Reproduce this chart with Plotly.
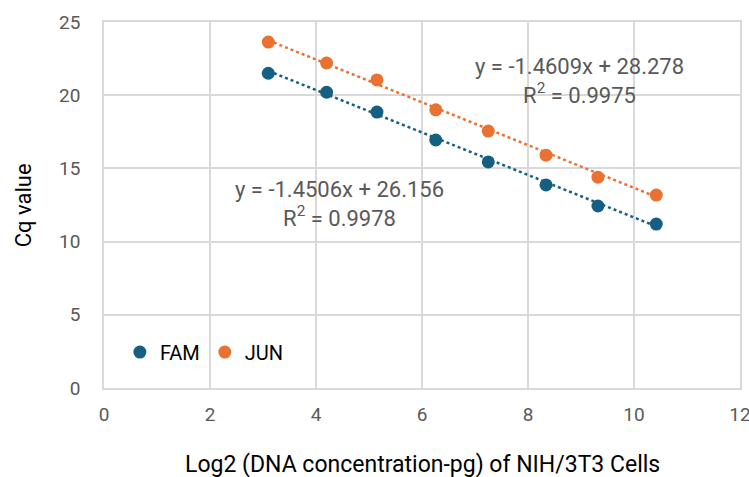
import plotly.graph_objects as go

x_vals = [3.1, 4.2, 5.15, 6.26, 7.25, 8.34, 9.32, 10.42]
fam_cq = [21.5, 20.2, 18.85, 16.94, 15.44, 13.87, 12.43, 11.2]
jun_cq = [23.63, 22.2, 21.04, 19.0, 17.55, 15.9, 14.4, 13.18]

fam_slope, fam_intercept, fam_r2 = -1.4506, 26.156, 0.9978
jun_slope, jun_intercept, jun_r2 = -1.4609, 28.278, 0.9975

x_title = "Log2 (DNA concentration-pg) of NIH/3T3 Cells"
y_title = "Cq value"

FAM_C = "#156082"
JUN_C = "#E97132"
FONT = "Roboto"
GRID = "#D9D9D9"

fig = go.Figure()

xr = [min(x_vals), max(x_vals)]
fig.add_trace(go.Scatter(x=xr, y=[fam_slope * v + fam_intercept for v in xr], mode="lines",
                         line=dict(color=FAM_C, width=2.5, dash="dot"), showlegend=False, hoverinfo="skip"))
fig.add_trace(go.Scatter(x=xr, y=[jun_slope * v + jun_intercept for v in xr], mode="lines",
                         line=dict(color=JUN_C, width=2.5, dash="dot"), showlegend=False, hoverinfo="skip"))
fig.add_trace(go.Scatter(x=x_vals, y=fam_cq, mode="markers", name="FAM",
                         marker=dict(color=FAM_C, size=13)))
fig.add_trace(go.Scatter(x=x_vals, y=jun_cq, mode="markers", name="JUN",
                         marker=dict(color=JUN_C, size=13)))

eq_font = dict(family=FONT, size=22, color="#595959")
fig.add_annotation(x=8.98, y=20.97, xref="x", yref="y",
                   text=f"y = {jun_slope}x + {jun_intercept}<br>R<sup>2</sup> = {jun_r2}",
                   showarrow=False, font=eq_font, align="center")
fig.add_annotation(x=4.45, y=12.57, xref="x", yref="y",
                   text=f"y = {fam_slope}x + {fam_intercept}<br>R<sup>2</sup> = {fam_r2}",
                   showarrow=False, font=eq_font, align="center")

fig.add_annotation(x=0.5, y=-0.21, xref="paper", yref="paper", text=x_title, showarrow=False,
                   xanchor="center", yanchor="middle", font=dict(family=FONT, size=23, color="#000000"))
fig.add_annotation(x=-0.127, y=0.5, xref="paper", yref="paper", text=y_title, showarrow=False,
                   textangle=-90, xanchor="center", yanchor="middle",
                   font=dict(family=FONT, size=22, color="#000000"))

fig.update_layout(
    width=749, height=477,
    margin=dict(l=104, r=9, t=22, b=89),
    paper_bgcolor="white", plot_bgcolor="white",
    font=dict(family=FONT, size=19, color="#595959"),
    legend=dict(x=0.025, y=0.045, xanchor="left", yanchor="bottom", orientation="h",
                font=dict(family=FONT, size=20, color="#000000"), bgcolor="rgba(0,0,0,0)",
                itemwidth=30, tracegroupgap=0),
    xaxis=dict(range=[0, 12], dtick=2, showgrid=True, gridcolor=GRID, gridwidth=1.5,
               zeroline=False, showline=True, linecolor=GRID, linewidth=1.5, mirror=True,
               ticks="", ticklabelstandoff=8, automargin=False, ticklabeloverflow="allow",
               tickfont=dict(family=FONT, size=19, color="#595959")),
    yaxis=dict(range=[0, 25], dtick=5, showgrid=True, gridcolor=GRID, gridwidth=1.5,
               zeroline=False, showline=True, linecolor=GRID, linewidth=1.5, mirror=True,
               ticks="", ticklabelstandoff=18, automargin=False, ticklabeloverflow="allow",
               tickfont=dict(family=FONT, size=19, color="#595959")),
)

fig.write_html("out.html", config={"displayModeBar": False},
               post_script="document.body.style.margin='0';document.body.style.overflow='hidden';")
